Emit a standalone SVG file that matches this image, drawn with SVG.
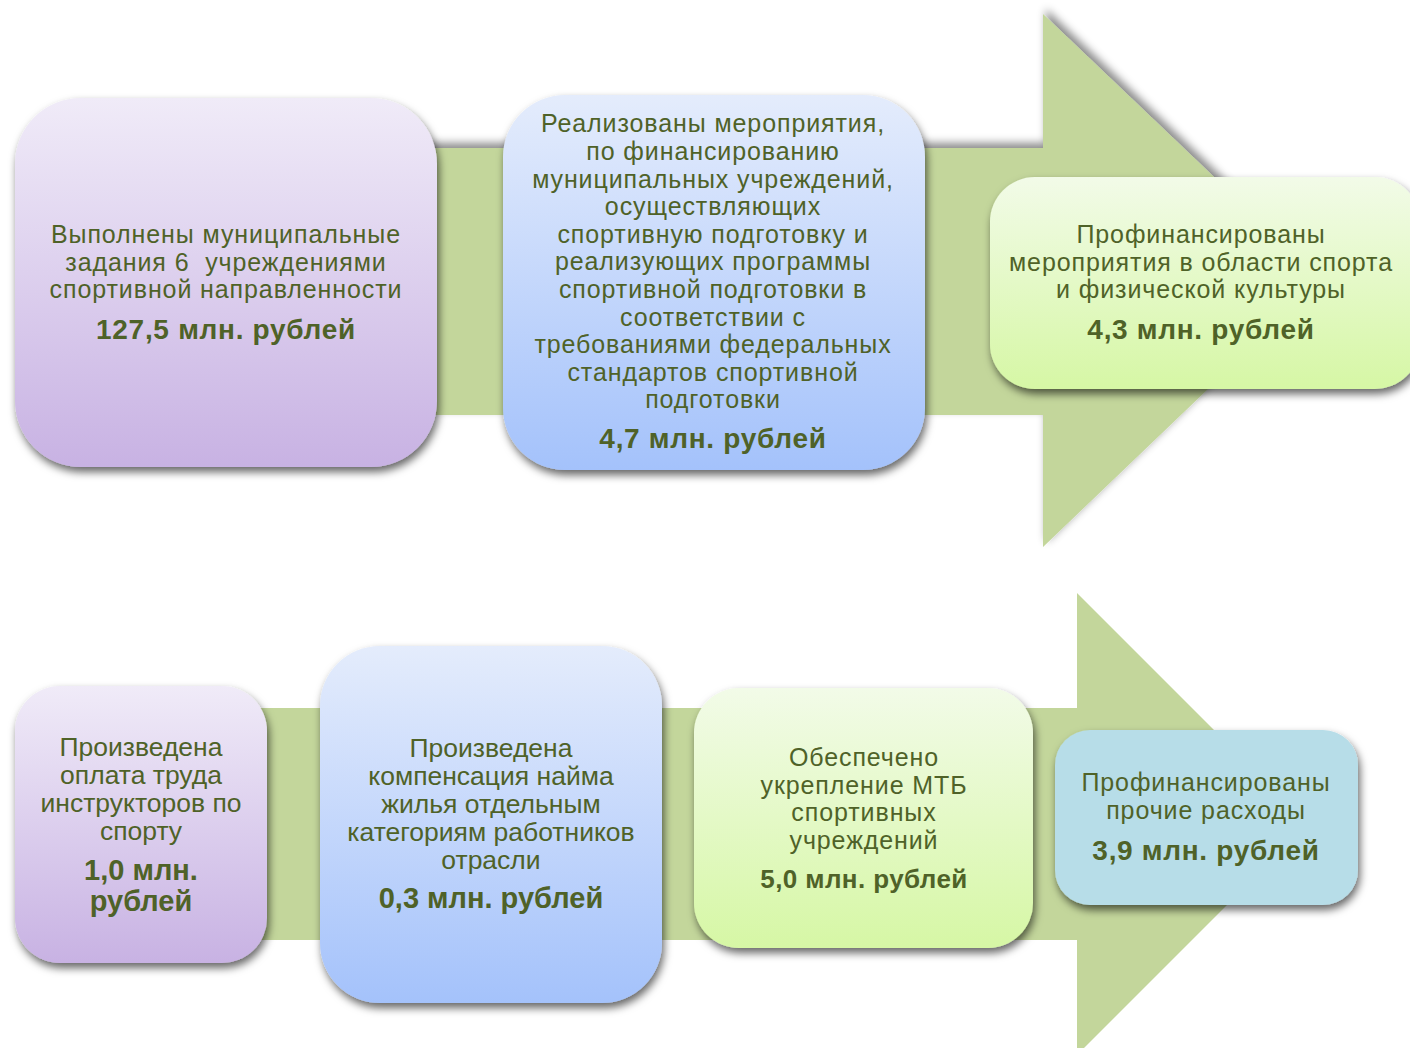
<svg xmlns="http://www.w3.org/2000/svg" width="1410" height="1048" viewBox="0 0 1410 1048">
<defs>
<linearGradient id="gPurple" x1="0" y1="0" x2="0" y2="1"><stop offset="0" stop-color="#f0ebf8"/><stop offset="1" stop-color="#c8b2e3"/></linearGradient>
<linearGradient id="gBlue" x1="0" y1="0" x2="0" y2="1"><stop offset="0" stop-color="#e4ecfc"/><stop offset="1" stop-color="#a4c2fb"/></linearGradient>
<linearGradient id="gGreen" x1="0" y1="0" x2="0" y2="1"><stop offset="0" stop-color="#f2fbe8"/><stop offset="1" stop-color="#d6f7a5"/></linearGradient>
<filter id="boxShadow" x="-10%" y="-10%" width="125%" height="125%"><feDropShadow dx="2" dy="5" stdDeviation="4" flood-color="#000" flood-opacity="0.6"/></filter>
<filter id="arrowShadow" x="-10%" y="-10%" width="125%" height="125%"><feDropShadow dx="3" dy="-5" stdDeviation="4" flood-color="#000" flood-opacity="0.45"/></filter>
<style>
.arrow{fill:#c3d69b}
text{font-family:"Liberation Sans",Arial,sans-serif;fill:#4f6228;text-anchor:middle;white-space:pre}
.t{font-size:25px;letter-spacing:0.9px}
.b{font-size:28px;font-weight:bold;letter-spacing:0.7px}
.n{font-size:26.5px}
.nb{font-size:29px;font-weight:bold}
.b2{font-size:26px;font-weight:bold;letter-spacing:0.4px}
</style>
</defs>
<rect width="1410" height="1048" fill="#ffffff"/>
<g id="connectors">
<polygon class="arrow" filter="url(#arrowShadow)" points="100,148 1043,148 1043,14 1322,280 1043,547 1043,415 100,415"/>
<polygon class="arrow" points="100,708 1077,708 1077,593 1308,824 1077,1055 1077,940 100,940"/>
</g>
<g id="node1">
<rect x="15" y="98" width="422" height="369" rx="66" fill="url(#gPurple)" filter="url(#boxShadow)"/>
<text class="t" x="226" y="243">Выполнены муниципальные</text>
<text class="t" x="226" y="271">задания 6  учреждениями</text>
<text class="t" x="226" y="298">спортивной направленности</text>
<text class="b" x="226" y="339">127,5 млн. рублей</text>
</g>
<g id="node2">
<rect x="503" y="95" width="422" height="375" rx="62" fill="url(#gBlue)" filter="url(#boxShadow)"/>
<text class="t" x="713" y="132">Реализованы мероприятия,</text>
<text class="t" x="713" y="160">по финансированию</text>
<text class="t" x="713" y="188">муниципальных учреждений,</text>
<text class="t" x="713" y="215">осуществляющих</text>
<text class="t" x="713" y="243">спортивную подготовку и</text>
<text class="t" x="713" y="270">реализующих программы</text>
<text class="t" x="713" y="298">спортивной подготовки в</text>
<text class="t" x="713" y="326">соответствии с</text>
<text class="t" x="713" y="353">требованиями федеральных</text>
<text class="t" x="713" y="381">стандартов спортивной</text>
<text class="t" x="713" y="408">подготовки</text>
<text class="b" x="713" y="448">4,7 млн. рублей</text>
</g>
<g id="node3">
<rect x="990" y="177" width="430" height="212" rx="45" fill="url(#gGreen)" filter="url(#boxShadow)"/>
<text class="t" x="1201" y="243">Профинансированы</text>
<text class="t" x="1201" y="271">мероприятия в области спорта</text>
<text class="t" x="1201" y="298">и физической культуры</text>
<text class="b" x="1201" y="339">4,3 млн. рублей</text>
</g>
<g id="node4">
<rect x="15" y="686" width="252" height="277" rx="45" fill="url(#gPurple)" filter="url(#boxShadow)"/>
<text class="n" x="141" y="756">Произведена</text>
<text class="n" x="141" y="784">оплата труда</text>
<text class="n" x="141" y="812">инструкторов по</text>
<text class="n" x="141" y="840">спорту</text>
<text class="nb" x="141" y="880">1,0 млн.</text>
<text class="nb" x="141" y="911">рублей</text>
</g>
<g id="node5">
<rect x="320" y="646" width="342" height="357" rx="60" fill="url(#gBlue)" filter="url(#boxShadow)"/>
<text class="n" x="491" y="757">Произведена</text>
<text class="n" x="491" y="785">компенсация найма</text>
<text class="n" x="491" y="813">жилья отдельным</text>
<text class="n" x="491" y="841">категориям работников</text>
<text class="n" x="491" y="869">отрасли</text>
<text class="nb" x="491" y="908">0,3 млн. рублей</text>
</g>
<g id="node6">
<rect x="694" y="688" width="339" height="260" rx="45" fill="url(#gGreen)" filter="url(#boxShadow)"/>
<text class="t" x="864" y="766">Обеспечено</text>
<text class="t" x="864" y="794">укрепление МТБ</text>
<text class="t" x="864" y="821">спортивных</text>
<text class="t" x="864" y="849">учреждений</text>
<text class="b2" x="864" y="888">5,0 млн. рублей</text>
</g>
<g id="node7">
<rect x="1055" y="730" width="303" height="175" rx="35" fill="#b7dde8" filter="url(#boxShadow)"/>
<text class="t" x="1206" y="791">Профинансированы</text>
<text class="t" x="1206" y="819">прочие расходы</text>
<text class="b" x="1206" y="860">3,9 млн. рублей</text>
</g>
</svg>
